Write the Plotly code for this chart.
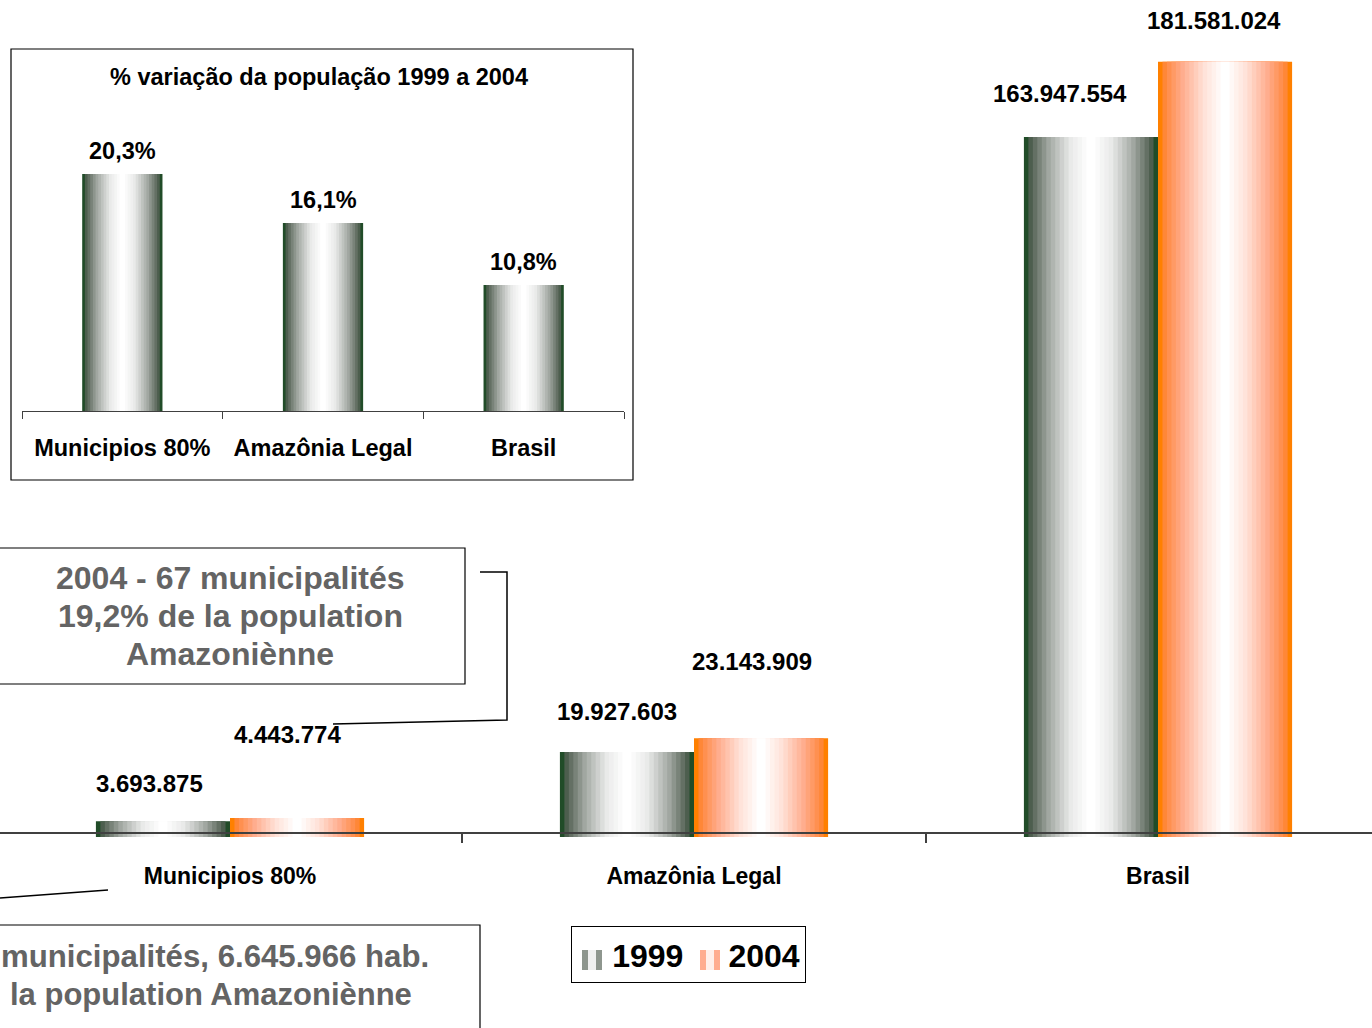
import plotly.graph_objects as go

# ---------------- data ----------------
categories = ["Municipios 80%", "Amazônia Legal", "Brasil"]
pop_1999 = [3693875, 19927603, 163947554]
pop_2004 = [4443774, 23143909, 181581024]
series_names = ["1999", "2004"]
pct_categories = ["Municipios 80%", "Amazônia Legal", "Brasil"]
pct_variation = [20.3, 16.1, 10.8]
inset_title = "% variação da população 1999 a 2004"
box1_lines = ["2004 - 67 municipalités", "19,2% de la population", "Amazoniènne"]
box2_lines = ["municipalités, 6.645.966 hab.", "la population Amazoniènne"]

# ---------------- styling helpers ----------------
W_PX, H_PX = 1372, 1028
FONT = "Liberation Sans, Arial, sans-serif"


def px(x):
    return x / W_PX


def py(y):
    return 1 - y / H_PX


def ramp(stops, t):
    for (t0, c0), (t1, c1) in zip(stops, stops[1:]):
        if t0 <= t <= t1:
            f = 0 if t1 == t0 else (t - t0) / (t1 - t0)
            c = [round(a + (b - a) * f) for a, b in zip(c0, c1)]
            return "rgb(%d,%d,%d)" % tuple(c)
    return "rgb(%d,%d,%d)" % stops[-1][1]


green_stops = [(0, (33, 76, 40)), (0.08, (82, 96, 82)), (0.35, (160, 166, 160)),
               (0.7, (232, 233, 232)), (1, (255, 255, 255))]
orange_stops = [(0, (255, 128, 0)), (0.08, (255, 136, 62)), (0.35, (255, 172, 140)),
                (0.7, (255, 226, 216)), (1, (255, 255, 255))]

N = 15          # number of gradient bands (nested bars) per half
W = 0.289       # width of one bar (category units)
W_INSET = 0.4


def fmt_pop(v):
    return f"{v:,}".replace(",", ".")


def fmt_pct(v):
    return f"{v:.1f}%".replace(".", ",")


fig = go.Figure()

# ---------------- main chart: nested bars make the banded gradient ----------------
for vals, stops, shift in [(pop_1999, green_stops, -W / 2), (pop_2004, orange_stops, W / 2)]:
    for k in range(N):
        wk = W * (N - k) / N
        fig.add_trace(go.Bar(
            x=categories, y=vals, width=wk, offset=shift - wk / 2,
            marker=dict(color=ramp(stops, k / (N - 1)), line=dict(width=0)),
            showlegend=False, hoverinfo="skip", xaxis="x", yaxis="y"))

# legend entries (icons drawn as striped swatches below the transparent legend)
for name in series_names:
    fig.add_trace(go.Bar(x=[categories[0]], y=[0], width=0.001, name=name,
                         marker=dict(color="rgba(0,0,0,0)", line=dict(width=0)),
                         hoverinfo="skip", xaxis="x", yaxis="y"))

# ---------------- inset chart ----------------
for k in range(N):
    wk = W_INSET * (N - k) / N
    fig.add_trace(go.Bar(
        x=pct_categories, y=pct_variation, width=wk, offset=-wk / 2,
        marker=dict(color=ramp(green_stops, k / (N - 1)), line=dict(width=0)),
        showlegend=False, hoverinfo="skip", xaxis="x2", yaxis="y2"))

annotations = []
# value labels (pixel offsets reproduce the hand-placed labels of the original)
dx_1999, dy_1999 = [-13, -10, -31], [38, 40, 43]
dx_2004, dy_2004 = [-10, -9, -11], [84, 77, 41]
for i in range(len(categories)):
    for vals, shift, dxs, dys in [(pop_1999, -W / 2, dx_1999, dy_1999),
                                  (pop_2004, W / 2, dx_2004, dy_2004)]:
        annotations.append(dict(
            x=i + shift, y=vals[i], xref="x", yref="y", text=fmt_pop(vals[i]),
            showarrow=False, xanchor="center", yanchor="middle",
            xshift=dxs[i], yshift=dys[i],
            font=dict(family=FONT, size=24, color="black", weight="bold")))

for i, v in enumerate(pct_variation):
    annotations.append(dict(
        x=i, y=v, xref="x2", yref="y2", text=fmt_pct(v), showarrow=False,
        xanchor="center", yanchor="middle", yshift=23,
        font=dict(family=FONT, size=23.5, color="black", weight="bold")))

annotations.append(dict(
    x=px(319), y=py(77), xref="paper", yref="paper", text=inset_title, showarrow=False,
    xanchor="center", yanchor="middle",
    font=dict(family=FONT, size=23.5, color="black", weight="bold")))

for line, yc in zip(box1_lines, [578, 616, 654]):
    annotations.append(dict(
        x=px(230), y=py(yc), xref="paper", yref="paper", text=line,
        showarrow=False, xanchor="center", yanchor="middle",
        font=dict(family=FONT, size=32, color="#646464", weight="bold")))
for line, xr, yc, fs in zip(box2_lines, [431, 414], [956, 994], [31.2, 31]):
    annotations.append(dict(
        x=px(xr), y=py(yc), xref="paper", yref="paper", text=line, showarrow=False,
        xanchor="right", yanchor="middle",
        font=dict(family=FONT, size=fs, color="#646464", weight="bold")))

shapes = [
    # inset frame
    dict(type="rect", xref="paper", yref="paper", x0=px(11), x1=px(633), y0=py(49), y1=py(480),
         line=dict(color="black", width=1.2), fillcolor="rgba(0,0,0,0)", layer="below"),
    # annotation boxes
    dict(type="rect", xref="paper", yref="paper", x0=px(-5), x1=px(465), y0=py(548), y1=py(684),
         line=dict(color="black", width=1.2)),
    dict(type="rect", xref="paper", yref="paper", x0=px(-5), x1=px(480), y0=py(925), y1=py(1040),
         line=dict(color="black", width=1.2)),
    # connector lines
    dict(type="path", xref="paper", yref="paper",
         path="M %f,%f L %f,%f L %f,%f L %f,%f" % (px(480), py(572), px(507), py(572),
                                                   px(507), py(720), px(333), py(724)),
         line=dict(color="black", width=1.5)),
    dict(type="line", xref="paper", yref="paper", x0=px(0), y0=py(898), x1=px(108), y1=py(890),
         line=dict(color="black", width=1.5)),
]

# striped legend swatches
for x0, dark, light in [(582, "#8e968e", "#f0f0f0"), (700, "#ffad8f", "#fff0ea")]:
    for a, b, c in [(x0, x0 + 6, dark), (x0 + 6, x0 + 14, light), (x0 + 14, x0 + 20, dark)]:
        shapes.append(dict(type="rect", xref="paper", yref="paper", x0=px(a), x1=px(b),
                           y0=py(970), y1=py(950), fillcolor=c, line=dict(width=0)))

fig.update_layout(
    width=W_PX, height=H_PX, margin=dict(l=0, r=0, t=0, b=0),
    paper_bgcolor="white", plot_bgcolor="rgba(0,0,0,0)",
    barmode="overlay", showlegend=True,
    font=dict(family=FONT, color="black"),
    xaxis=dict(domain=[0, 1], range=[-0.4957, 2.4612], type="category",
               categoryorder="array", categoryarray=categories,
               anchor="free", position=py(833),
               showline=True, linecolor="#404040", linewidth=1.5,
               ticks="outside", tickson="boundaries", ticklen=9, tickcolor="#404040", tickwidth=1.5,
               showgrid=False, zeroline=False, ticklabelstandoff=23,
               tickfont=dict(family=FONT, size=23, color="black", weight="bold")),
    yaxis=dict(domain=[0, 1], range=[-191 / 4.27 * 1e6, 837 / 4.27 * 1e6], visible=False),
    xaxis2=dict(domain=[px(22), px(624)], range=[-0.5, 2.5], type="category",
                categoryorder="array", categoryarray=pct_categories, anchor="y2",
                showline=True, linecolor="#404040", linewidth=1.2,
                ticks="outside", tickson="boundaries", ticklen=7, tickcolor="#404040", tickwidth=1.2,
                showgrid=False, zeroline=False, ticklabelstandoff=16,
                tickfont=dict(family=FONT, size=23.5, color="black", weight="bold")),
    yaxis2=dict(domain=[py(411), py(411 - 24 * 11.67)], range=[0, 24], visible=False),
    legend=dict(orientation="h", x=px(571), y=py(926), xanchor="left", yanchor="top",
                bordercolor="black", borderwidth=1.2, bgcolor="rgba(0,0,0,0)",
                font=dict(family=FONT, size=32, color="black", weight="bold"),
                itemsizing="constant"),
    annotations=annotations, shapes=shapes,
)

fig.write_html("out.html", config={"displayModeBar": False},
               post_script="document.body.style.margin='0';")
